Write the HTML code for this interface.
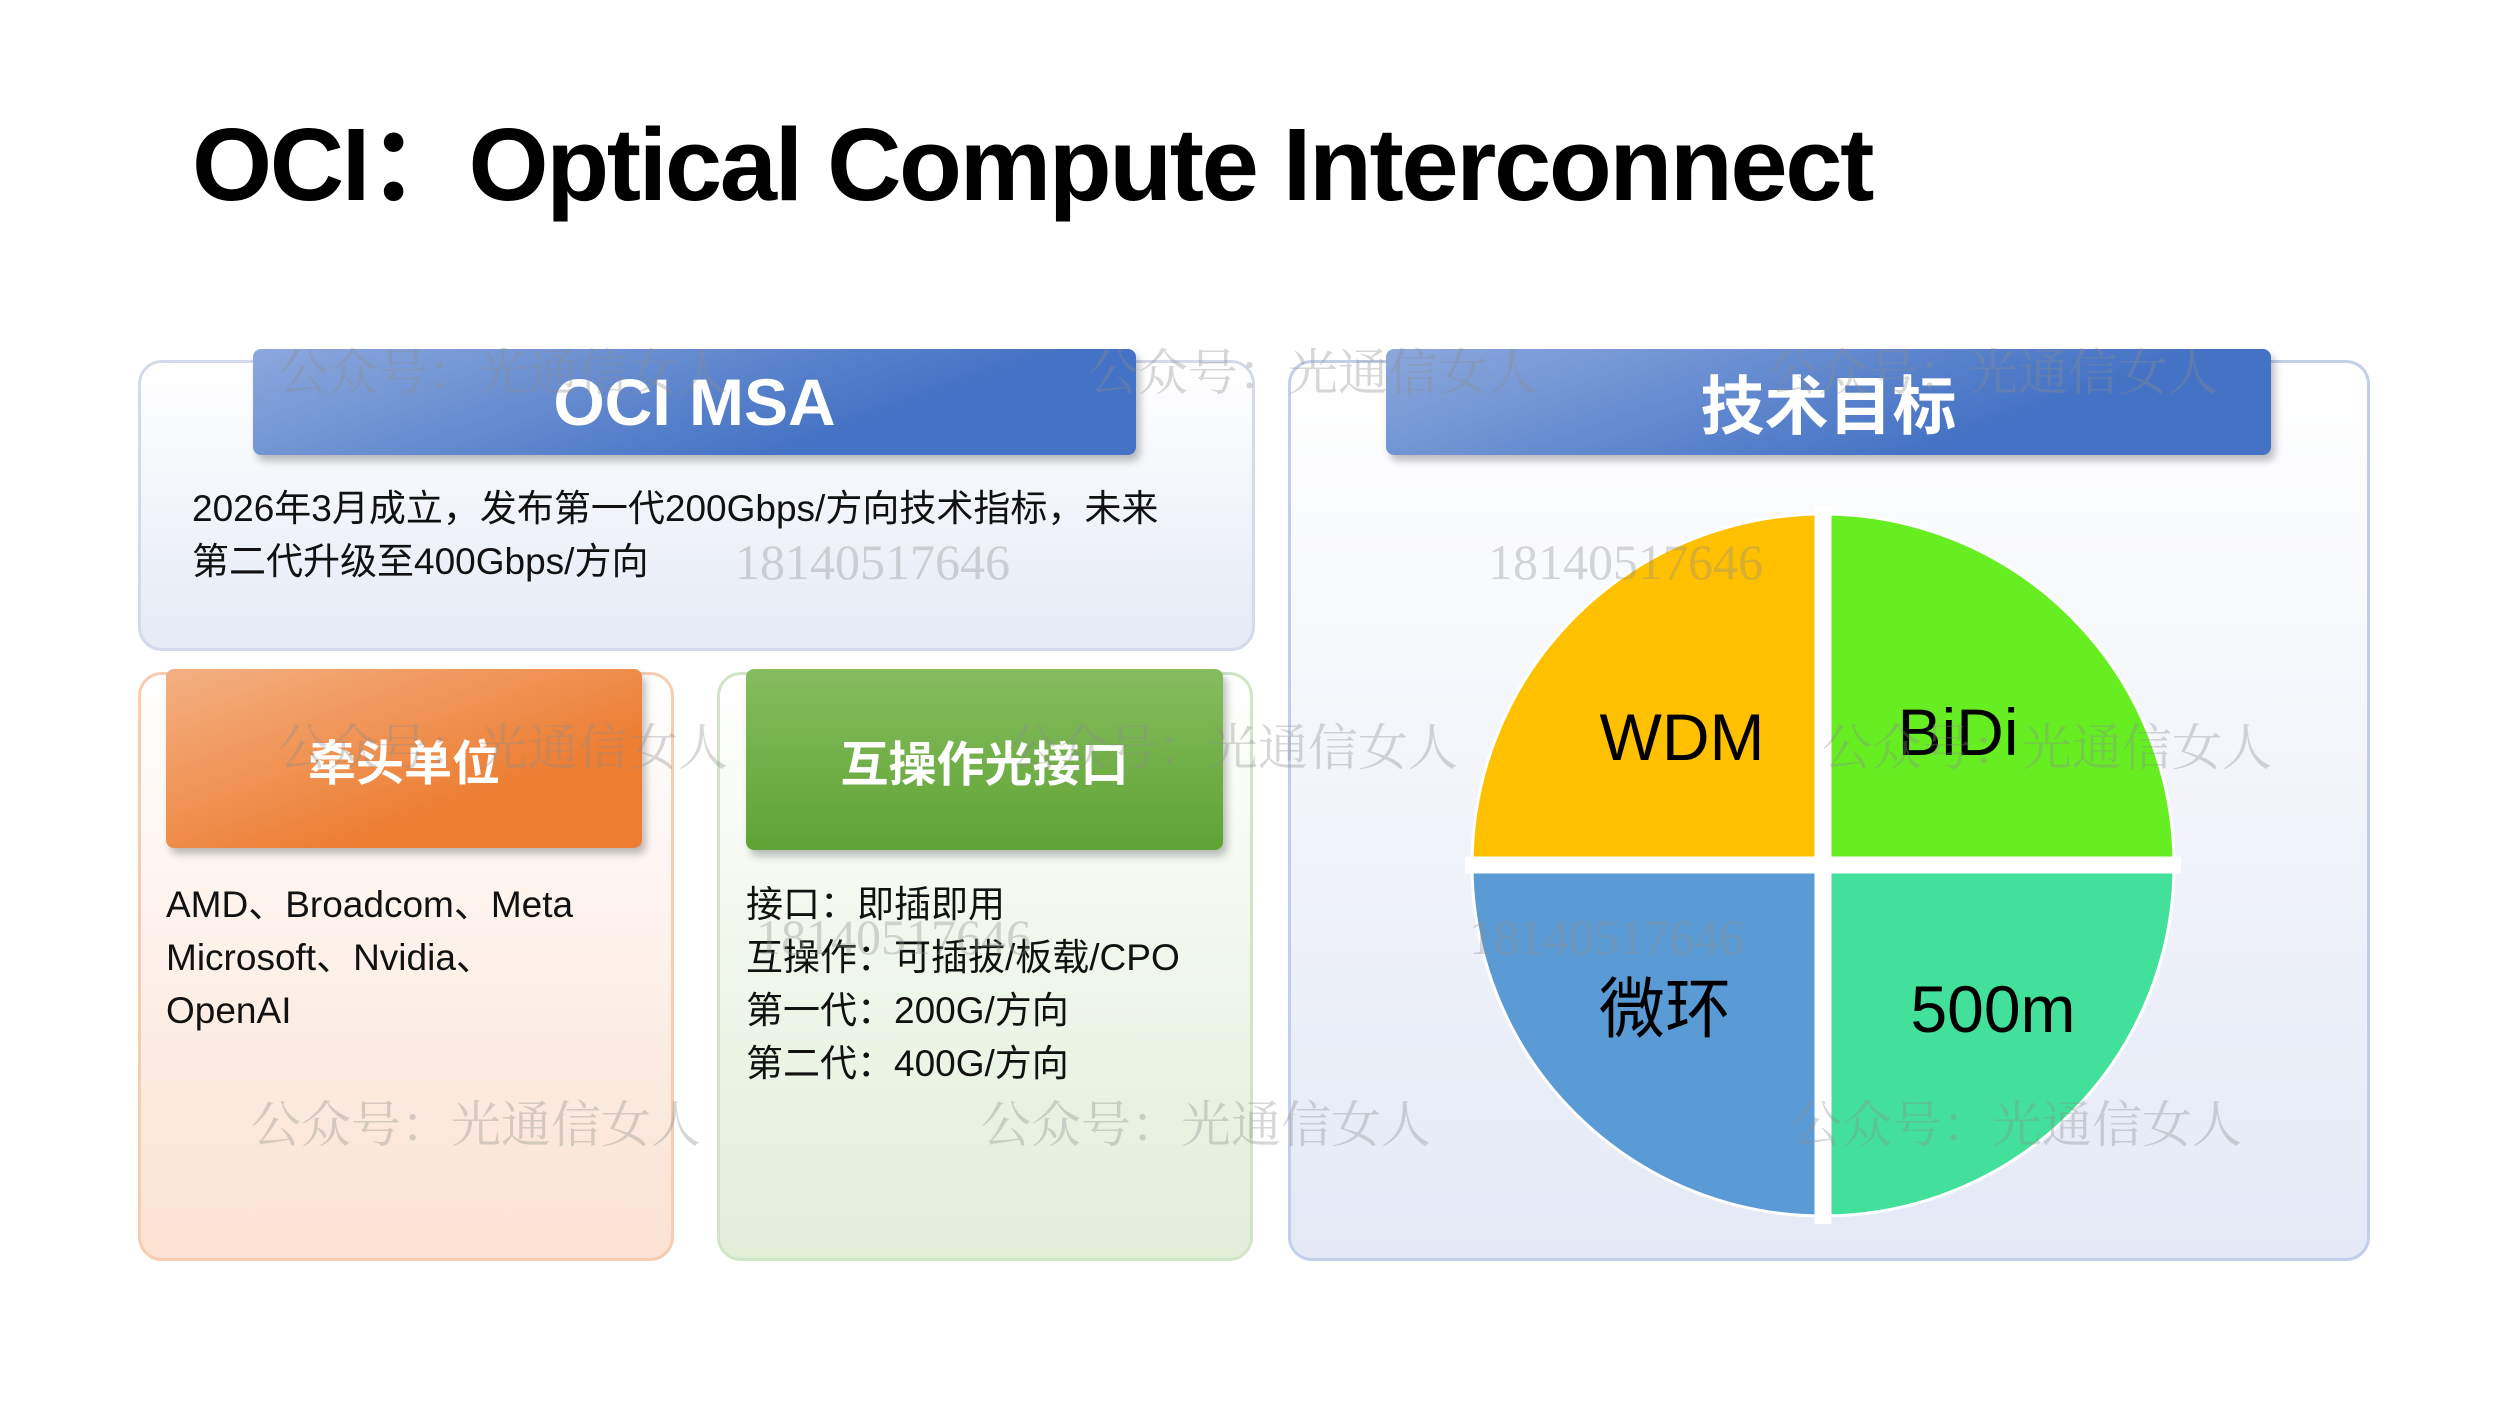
<!DOCTYPE html>
<html><head><meta charset="utf-8"><style>
body{margin:0;width:2500px;height:1406px;background:#fff;position:relative;overflow:hidden;font-family:"Liberation Sans","Noto Sans CJK SC",sans-serif;}
.a{position:absolute;box-sizing:border-box}
.panel{border-radius:24px;border:3px solid}
.hdr{border-radius:8px;color:#fff;font-weight:bold;display:flex;align-items:center;justify-content:center;box-shadow:4px 6px 8px rgba(0,0,0,0.25)}
.t{position:absolute;font-size:37px;color:#111;line-height:53px;white-space:nowrap}
.wm{position:absolute;font-family:"Liberation Serif","Noto Serif CJK SC",serif;font-size:50px;color:rgba(140,140,140,0.35);white-space:nowrap;line-height:1}
</style></head><body>
<div class="a" style="left:192px;top:108px;font-size:103px;letter-spacing:-2.4px;font-weight:bold;color:#000;white-space:nowrap;line-height:1.1">OCI：Optical Compute Interconnect</div>

<div class="a panel" style="left:138px;top:360px;width:1117px;height:291px;background:linear-gradient(#fff,#e5eaf5);border-color:#d3daea"></div>
<div class="a hdr" style="left:253px;top:349px;width:883px;height:106px;background:linear-gradient(160deg,#8ca8dd,#4472c4 70%);font-size:66px">OCI MSA</div>
<div class="t" style="left:192px;top:482px">2026年3月成立，发布第一代200Gbps/方向技术指标，未来<br>第二代升级至400Gbps/方向</div>

<div class="a panel" style="left:138px;top:672px;width:536px;height:589px;background:linear-gradient(#fff,#fbe2d2);border-color:#f6cdb0"></div>
<div class="a hdr" style="left:166px;top:669px;width:476px;height:179px;background:linear-gradient(160deg,#f3b083,#ed7d31 70%);font-size:48px">牵头单位</div>
<div class="t" style="left:166px;top:878px">AMD、Broadcom、Meta<br>Microsoft、Nvidia、<br>OpenAI</div>

<div class="a panel" style="left:717px;top:672px;width:536px;height:589px;background:linear-gradient(#fff,#e1eed8);border-color:#d2e4c6"></div>
<div class="a hdr" style="left:746px;top:669px;width:477px;height:181px;background:linear-gradient(#86bd5f,#5fa334);font-size:48px">互操作光接口</div>
<div class="t" style="left:746px;top:878px">接口：即插即用<br>互操作：可插拔/板载/CPO<br>第一代：200G/方向<br>第二代：400G/方向</div>

<div class="a panel" style="left:1288px;top:360px;width:1082px;height:901px;background:linear-gradient(#fff,#e4e9f5);border-color:#c3cfea"></div>
<div class="a hdr" style="left:1386px;top:349px;width:885px;height:106px;background:linear-gradient(160deg,#8ca8dd,#4472c4 70%);font-size:64px">技术目标</div>

<svg class="a" style="left:0;top:0" width="2500" height="1406">
<g transform="translate(-5,-4)">
<path d="M1828 869 L1828 518 A351 351 0 0 0 1477 869 Z" fill="#ffc000"/>
<path d="M1828 869 L1828 518 A351 351 0 0 1 2179 869 Z" fill="#66ee22"/>
<path d="M1828 869 L1477 869 A351 351 0 0 0 1828 1220 Z" fill="#5b9bd5"/>
<path d="M1828 869 L2179 869 A351 351 0 0 1 1828 1220 Z" fill="#42e09a"/>
<circle cx="1828" cy="869" r="351" fill="none" stroke="#fff" stroke-width="3"/>
<line x1="1828" y1="510" x2="1828" y2="1228" stroke="#fff" stroke-width="17"/>
<line x1="1470" y1="869" x2="2186" y2="869" stroke="#fff" stroke-width="17"/>
<g font-family="Liberation Sans, Noto Sans CJK SC, sans-serif" font-size="66" fill="#000" text-anchor="middle">
<text x="1687" y="764">WDM</text>
<text x="1963" y="759">BiDi</text>
<text x="1670" y="1036">微环</text>
<text x="1998" y="1036">500m</text>
</g>
</g>
</svg>

<div class="wm" style="left:278px;top:348px">公众号：光通信女人</div>
<div class="wm" style="left:1088px;top:348px">公众号：光通信女人</div>
<div class="wm" style="left:1768px;top:348px">公众号：光通信女人</div>
<div class="wm" style="left:735px;top:537px">18140517646</div>
<div class="wm" style="left:1488px;top:537px">18140517646</div>
<div class="wm" style="left:278px;top:723px">公众号：光通信女人</div>
<div class="wm" style="left:1008px;top:723px">公众号：光通信女人</div>
<div class="wm" style="left:1822px;top:723px">公众号：光通信女人</div>
<div class="wm" style="left:756px;top:912px">18140517646</div>
<div class="wm" style="left:1469px;top:912px">18140517646</div>
<div class="wm" style="left:251px;top:1100px">公众号：光通信女人</div>
<div class="wm" style="left:981px;top:1100px">公众号：光通信女人</div>
<div class="wm" style="left:1792px;top:1100px">公众号：光通信女人</div>
</body></html>
